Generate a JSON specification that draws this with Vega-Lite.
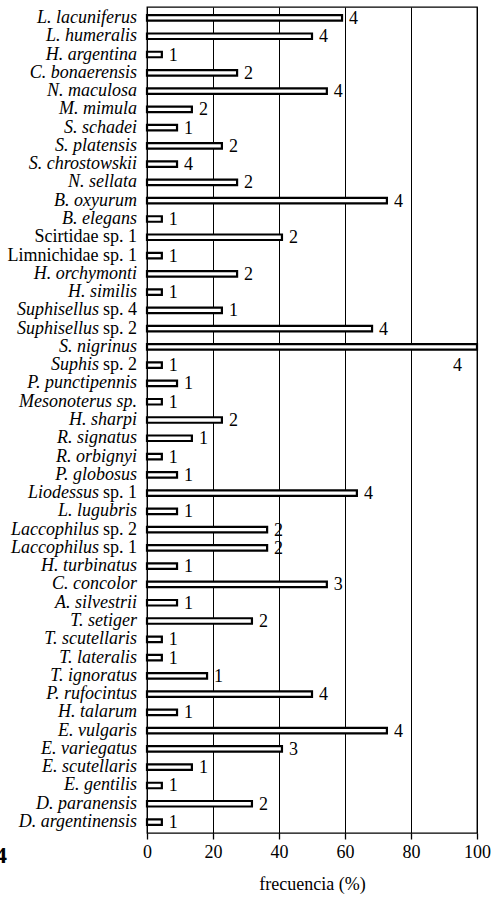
{
  "$schema": "https://vega.github.io/schema/vega-lite/v6.json",
  "width": 330,
  "height": 826,
  "autosize": {"type": "none"},
  "padding": {"left": 147, "top": 7, "right": 14, "bottom": 68},
  "background": "white",
  "config": {
    "view": {"stroke": "black", "strokeWidth": 1.3},
    "font": "Liberation Serif"
  },
  "title": {
    "text": "4",
    "orient": "bottom",
    "anchor": "start",
    "frame": "group",
    "font": "Liberation Serif",
    "fontSize": 24,
    "fontWeight": "bold",
    "color": "black",
    "dx": -152,
    "offset": -49
  },
  "data": {
    "values": [
      {"name": "L. lacuniferus", "ital": "L. lacuniferus", "rom": "", "pct": 59.1, "n": 4},
      {"name": "L. humeralis", "ital": "L. humeralis", "rom": "", "pct": 50, "n": 4},
      {"name": "H. argentina", "ital": "H. argentina", "rom": "", "pct": 4.5, "n": 1},
      {"name": "C. bonaerensis", "ital": "C. bonaerensis", "rom": "", "pct": 27.3, "n": 2},
      {"name": "N. maculosa", "ital": "N. maculosa", "rom": "", "pct": 54.5, "n": 4},
      {"name": "M. mimula", "ital": "M. mimula", "rom": "", "pct": 13.6, "n": 2},
      {"name": "S. schadei", "ital": "S. schadei", "rom": "", "pct": 9.1, "n": 1},
      {"name": "S. platensis", "ital": "S. platensis", "rom": "", "pct": 22.7, "n": 2},
      {"name": "S. chrostowskii", "ital": "S. chrostowskii", "rom": "", "pct": 9.1, "n": 4},
      {"name": "N. sellata", "ital": "N. sellata", "rom": "", "pct": 27.3, "n": 2},
      {"name": "B. oxyurum", "ital": "B. oxyurum", "rom": "", "pct": 72.7, "n": 4},
      {"name": "B. elegans", "ital": "B. elegans", "rom": "", "pct": 4.5, "n": 1},
      {"name": "Scirtidae sp. 1", "ital": "", "rom": "Scirtidae sp. 1", "pct": 40.9, "n": 2},
      {"name": "Limnichidae sp. 1", "ital": "", "rom": "Limnichidae sp. 1", "pct": 4.5, "n": 1},
      {"name": "H. orchymonti", "ital": "H. orchymonti", "rom": "", "pct": 27.3, "n": 2},
      {"name": "H. similis", "ital": "H. similis", "rom": "", "pct": 4.5, "n": 1},
      {"name": "Suphisellus sp. 4", "ital": "Suphisellus", "rom": "sp. 4", "pct": 22.7, "n": 1},
      {"name": "Suphisellus sp. 2", "ital": "Suphisellus", "rom": "sp. 2", "pct": 68.2, "n": 4},
      {"name": "S. nigrinus", "ital": "S. nigrinus", "rom": "", "pct": 100, "n": 4},
      {"name": "Suphis sp. 2", "ital": "Suphis", "rom": "sp. 2", "pct": 4.5, "n": 1},
      {"name": "P. punctipennis", "ital": "P. punctipennis", "rom": "", "pct": 9.1, "n": 1},
      {"name": "Mesonoterus sp.", "ital": "Mesonoterus sp.", "rom": "", "pct": 4.5, "n": 1},
      {"name": "H. sharpi", "ital": "H. sharpi", "rom": "", "pct": 22.7, "n": 2},
      {"name": "R. signatus", "ital": "R. signatus", "rom": "", "pct": 13.6, "n": 1},
      {"name": "R. orbignyi", "ital": "R. orbignyi", "rom": "", "pct": 4.5, "n": 1},
      {"name": "P. globosus", "ital": "P. globosus", "rom": "", "pct": 9.1, "n": 1},
      {"name": "Liodessus sp. 1", "ital": "Liodessus", "rom": "sp. 1", "pct": 63.6, "n": 4},
      {"name": "L. lugubris", "ital": "L. lugubris", "rom": "", "pct": 9.1, "n": 1},
      {"name": "Laccophilus sp. 2", "ital": "Laccophilus", "rom": "sp. 2", "pct": 36.4, "n": 2},
      {"name": "Laccophilus sp. 1", "ital": "Laccophilus", "rom": "sp. 1", "pct": 36.4, "n": 2},
      {"name": "H. turbinatus", "ital": "H. turbinatus", "rom": "", "pct": 9.1, "n": 1},
      {"name": "C. concolor", "ital": "C. concolor", "rom": "", "pct": 54.5, "n": 3},
      {"name": "A. silvestrii", "ital": "A. silvestrii", "rom": "", "pct": 9.1, "n": 1},
      {"name": "T. setiger", "ital": "T. setiger", "rom": "", "pct": 31.8, "n": 2},
      {"name": "T. scutellaris", "ital": "T. scutellaris", "rom": "", "pct": 4.5, "n": 1},
      {"name": "T. lateralis", "ital": "T. lateralis", "rom": "", "pct": 4.5, "n": 1},
      {"name": "T. ignoratus", "ital": "T. ignoratus", "rom": "", "pct": 18.2, "n": 1},
      {"name": "P. rufocintus", "ital": "P. rufocintus", "rom": "", "pct": 50, "n": 4},
      {"name": "H. talarum", "ital": "H. talarum", "rom": "", "pct": 9.1, "n": 1},
      {"name": "E. vulgaris", "ital": "E. vulgaris", "rom": "", "pct": 72.7, "n": 4},
      {"name": "E. variegatus", "ital": "E. variegatus", "rom": "", "pct": 40.9, "n": 3},
      {"name": "E. scutellaris", "ital": "E. scutellaris", "rom": "", "pct": 13.6, "n": 1},
      {"name": "E. gentilis", "ital": "E. gentilis", "rom": "", "pct": 4.5, "n": 1},
      {"name": "D. paranensis", "ital": "D. paranensis", "rom": "", "pct": 31.8, "n": 2},
      {"name": "D. argentinensis", "ital": "D. argentinensis", "rom": "", "pct": 4.5, "n": 1}
    ]
  },
  "encoding": {
    "y": {
      "field": "name",
      "type": "nominal",
      "sort": null,
      "axis": null,
      "scale": {"paddingInner": 0, "paddingOuter": 0.1}
    }
  },
  "layer": [
    {
      "mark": {"type": "bar", "fill": "white", "stroke": "black", "strokeWidth": 2.2, "size": 5.5},
      "encoding": {
        "x": {
          "field": "pct",
          "type": "quantitative",
          "scale": {"domain": [0, 100], "nice": false, "zero": true},
          "axis": {
            "values": [0, 20, 40, 60, 80, 100],
            "grid": true,
            "gridColor": "black",
            "gridOpacity": 1,
            "gridWidth": 1,
            "domain": false,
            "ticks": true,
            "tickColor": "black",
            "tickSize": 6,
            "tickWidth": 1.3,
            "labelFont": "Liberation Serif",
            "labelFontSize": 18,
            "labelColor": "black",
            "labelPadding": 4,
            "labelFlush": false,
            "title": "frecuencia (%)",
            "titleFont": "Liberation Serif",
            "titleFontSize": 18,
            "titleFontWeight": "normal",
            "titleColor": "black",
            "titlePadding": 14
          }
        }
      }
    },
    {
      "mark": {"type": "text", "align": "left", "baseline": "middle", "dx": 7, "dy": 1, "fontSize": 18, "font": "Liberation Serif", "color": "black"},
      "encoding": {
        "x": {"field": "pct", "type": "quantitative"},
        "text": {"condition": {"test": "datum.pct < 100", "field": "n"}, "value": ""}
      }
    },
    {
      "mark": {"type": "text", "align": "right", "baseline": "middle", "dx": -15, "dy": 19, "fontSize": 18, "font": "Liberation Serif", "color": "black"},
      "encoding": {
        "x": {"field": "pct", "type": "quantitative"},
        "text": {"condition": {"test": "datum.pct >= 100", "field": "n"}, "value": ""}
      }
    },
    {
      "mark": {"type": "text", "align": "right", "baseline": "middle", "dx": -10, "fontSize": 18, "fontStyle": "italic", "font": "Liberation Serif", "color": "black"},
      "encoding": {
        "x": {"datum": 0, "type": "quantitative"},
        "text": {"condition": {"test": "datum.rom == ''", "field": "ital"}, "value": ""}
      }
    },
    {
      "mark": {"type": "text", "align": "right", "baseline": "middle", "dx": -10, "fontSize": 18, "font": "Liberation Serif", "color": "black"},
      "encoding": {
        "x": {"datum": 0, "type": "quantitative"},
        "text": {"field": "rom"}
      }
    },
    {
      "mark": {"type": "text", "align": "right", "baseline": "middle", "dx": -48, "fontSize": 18, "fontStyle": "italic", "font": "Liberation Serif", "color": "black"},
      "encoding": {
        "x": {"datum": 0, "type": "quantitative"},
        "text": {"condition": {"test": "datum.rom != ''", "field": "ital"}, "value": ""}
      }
    }
  ]
}
